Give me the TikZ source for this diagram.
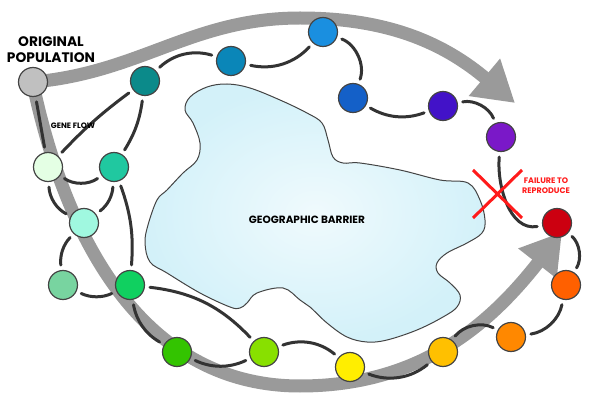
\documentclass[tikz,border=0pt]{standalone}
\usepackage{fontspec}
\setmainfont{Poppins}
\usetikzlibrary{arrows.meta}
\definecolor{bandgray}{HTML}{9A9A9A}
\definecolor{linkgray}{HTML}{333333}
\definecolor{rimgray}{HTML}{444444}
\definecolor{barrierfill}{HTML}{D3F1F9}
\definecolor{failred}{HTML}{FF1A1A}
\begin{document}
\begin{tikzpicture}[x=1pt,y=1pt,
  pop/.style={circle,draw=rimgray,line width=1.2pt,minimum size=29pt,inner sep=0pt},
  link/.style={draw=linkgray,line width=3pt,line cap=round,shorten <=5pt,shorten >=5pt},
  band/.style={draw=bandgray,line width=13pt,-{Triangle[length=40pt,width=46pt]}},
  label/.style={font=\bfseries,align=center,inner sep=0pt}]
\useasboundingbox (0,0) rectangle (600,402);
\draw[rimgray,line width=1pt,inner color=barrierfill!35,outer color=barrierfill] plot[smooth cycle,tension=0.6] coordinates {
  (185,292) (190,305) (207,315) (227,318) (250,314) (280,302) (307,289) (322,279)
  (328,262) (333,245) (343,239) (360,239) (400,232) (440,222) (468,219) (480,202)
  (485,182) (482,169) (467,159) (447,149) (437,139) (438,129) (450,119) (460,107)
  (457,95) (443,85) (417,72) (387,62) (367,60) (347,65) (327,79) (310,95) (300,102)
  (283,114) (257,109) (247,99) (240,94) (230,95) (200,109) (167,129) (150,140)
  (145,159) (148,177) (157,202) (167,212) (183,229) (197,242) (200,259) (193,279)};
\node[label,font=\bfseries\fontsize{10.5}{12}\selectfont] (barrier) at (307,182) {GEOGRAPHIC BARRIER};

\draw[band] (33,320) to[out=5,in=180] (300,384) to[out=0,in=140] (515,299);
\draw[band] (33,318) to[out=-78,in=180] (300,16) to[out=0,in=232] (562,170);

\node[pop,fill={rgb,255:red,192;green,192;blue,192}] (p0) at (33,320) {};
\node[pop,fill={rgb,255:red,11;green,138;blue,138}] (p1) at (145,321) {};
\node[pop,fill={rgb,255:red,10;green,134;blue,184}] (p2) at (231,341) {};
\node[pop,fill={rgb,255:red,26;green,143;blue,224}] (p3) at (323,370) {};
\node[pop,fill={rgb,255:red,20;green,96;blue,200}] (p4) at (353,304) {};
\node[pop,fill={rgb,255:red,66;green,18;blue,200}] (p5) at (443,296) {};
\node[pop,fill={rgb,255:red,122;green,24;blue,200}] (p6) at (501,265) {};
\node[pop,fill={rgb,255:red,204;green,0;blue,16}] (p7) at (557,179) {};
\node[pop,fill={rgb,255:red,255;green,96;blue,0}] (p8) at (566,117) {};
\node[pop,fill={rgb,255:red,255;green,136;blue,0}] (p9) at (511,65) {};
\node[pop,fill={rgb,255:red,255;green,192;blue,0}] (p10) at (443,50) {};
\node[pop,fill={rgb,255:red,255;green,238;blue,0}] (p11) at (350,35) {};
\node[pop,fill={rgb,255:red,136;green,224;blue,0}] (p12) at (264,50) {};
\node[pop,fill={rgb,255:red,51;green,196;blue,0}] (p13) at (177,50) {};
\node[pop,fill={rgb,255:red,16;green,208;blue,96}] (p14) at (130,117) {};
\node[pop,fill={rgb,255:red,120;green,212;blue,160}] (p15) at (63,117) {};
\node[pop,fill={rgb,255:red,160;green,248;blue,224}] (p16) at (84,179) {};
\node[pop,fill={rgb,255:red,228;green,255;blue,228}] (p17) at (48,235) {};
\node[pop,fill={rgb,255:red,32;green,200;blue,160}] (p18) at (114,235) {};

\draw[link] (p0) -- (p17);
\draw[link] (p17) to[bend left=5] (p1);
\draw[link] (p18) to[bend right=12] (p1);
\draw[link] (p1) to[bend left=30] (p2);
\draw[link] (p2) to[bend right=30] (p3);
\draw[link] (p3) to[bend left=45] (p4);
\draw[link] (p4) to[bend right=25] (p5);
\draw[link] (p5) to[bend left=40] (p6);
\draw[link] (p6) to[out=-95,in=190] (p7);
\draw[link] (p7) to[bend left=40] (p8);
\draw[link] (p8) to[bend left=35] (p9);
\draw[link] (p9) to[bend right=40] (p10);
\draw[link] (p10) to[bend left=30] (p11);
\draw[link] (p11) to[bend right=30] (p12);
\draw[link] (p12) to[bend right=20] (p14);
\draw[link] (p13) to[bend right=25] (p12);
\draw[link] (p14) to[bend right=25] (p13);
\draw[link] (p15) to[bend right=25] (p14);
\draw[link] (p16) to[bend right=25] (p15);
\draw[link] (p17) to[bend right=30] (p16);
\draw[link] (p18) to[bend left=25] (p16);
\draw[link] (p18) to[bend left=12] (p14);
\draw[link] (p17) to[bend right=35] (p18);

\coordinate (xa) at (473,232);
\coordinate (xb) at (522,184);
\coordinate (xc) at (522,232);
\coordinate (xd) at (473,184);
\draw[failred,line width=3pt] (xa) -- (xb) (xc) -- (xd);

\node[label,font=\bfseries\fontsize{13.8}{16}\selectfont] (orig) at (51,352) {ORIGINAL\\POPULATION};
\node[label,font=\bfseries\fontsize{7.8}{9}\selectfont] (flow) at (73,276) {GENE FLOW};
\node[label,text=failred,font=\bfseries\fontsize{8}{10}\selectfont] (fail) at (546,216) {FAILURE TO\\REPRODUCE};
\end{tikzpicture}
\end{document}
